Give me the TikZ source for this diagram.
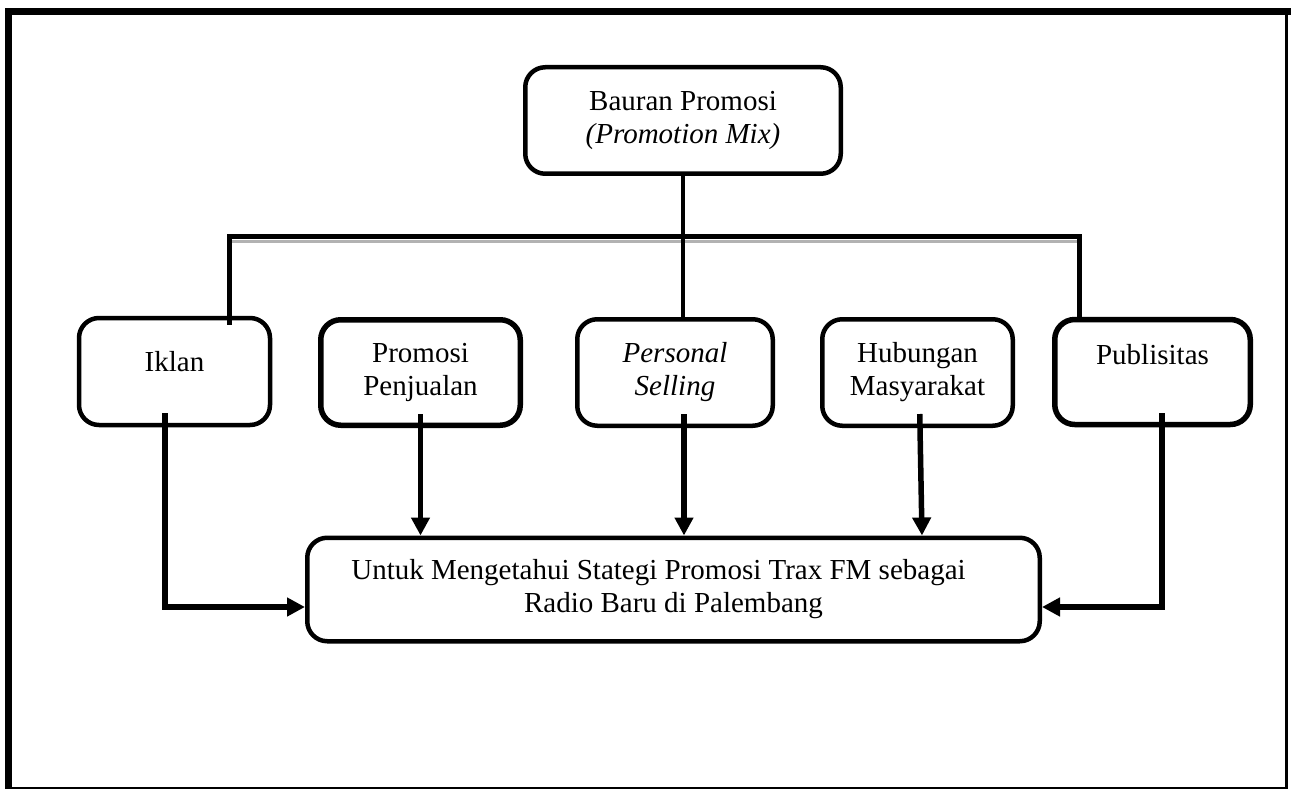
\documentclass[tikz,border=0pt]{standalone}
\usepackage{fontspec}
\setmainfont{Liberation Serif}
\usetikzlibrary{arrows.meta}
\begin{document}
\begin{tikzpicture}[x=1pt,y=-1pt,
  box/.style={draw, rounded corners=20pt, line width=4.5pt, align=center,
    font=\fontsize{29}{33}\selectfont, inner sep=0pt},
  thickbox/.style={box, line width=5.5pt},
  single/.style={text height=20pt, text depth=20pt},
  singlehi/.style={text height=20pt, text depth=36pt},
  conn/.style={line width=4.5pt},
  arr/.style={line width=5.5pt, -{Triangle[length=18pt,width=18pt]}},
  framel/.style={line cap=rect}]
\useasboundingbox (0,0) rectangle (1291,789);
% outer frame
\draw[framel, line width=7pt] (8.5,12) -- (8.5,789);
\draw[framel, line width=7pt] (8,11.5) -- (1287,11.5);
\draw[line width=3pt] (1286.5,10) -- (1286.5,789);
\draw[line width=2pt] (8,787.5) -- (1288,787.5);

% nodes
\node[box, minimum width=315.5pt, minimum height=106.5pt] (top) at (683,120.5)
  {Bauran Promosi\\\textit{(Promotion Mix)}};
\node[box, single, minimum width=191pt, minimum height=107pt] (ik) at (174.5,371.5) {Iklan};
\node[thickbox, minimum width=199.5pt, minimum height=105.5pt] (pp) at (420.5,372.5) {Promosi\\Penjualan};
\node[box, minimum width=195.5pt, minimum height=106.5pt] (ps) at (675,372.5) {\textit{Personal}\\\textit{Selling}};
\node[box, minimum width=190.5pt, minimum height=106.5pt] (hm) at (917.5,372.5) {Hubungan\\Masyarakat};
\node[thickbox, singlehi, minimum width=195.5pt, minimum height=105pt] (pub) at (1152.5,372) {Publisitas};
\node[box, minimum width=732.5pt, minimum height=103.5pt] (bot) at (673.5,589.5)
  {Untuk Mengetahui Stategi Promosi Trax FM sebagai\hspace*{30pt}\\Radio Baru di Palembang};

% bus
\coordinate (busL) at (229.5,236.5);
\coordinate (busR) at (1079.5,236.5);
\draw[gray!60, line width=3pt] (229.5,241) -- (1081,241);
\draw[conn] (top.south) -- (top.south |- ps.north);
\draw[conn, shorten <=-9pt] (busL |- ik.north) -- (busL) -- (busR) -- (busR |- pub.north);

% arrows
\draw[arr, shorten <=-14pt] ([xshift=-9.5pt]ik.south) |- ([yshift=-17.5pt]bot.west);
\draw[arr, shorten <=-14pt] (pp.south) -- (pp.south |- bot.north);
\draw[arr, shorten <=-14pt] ([xshift=9pt]ps.south) -- ([xshift=9pt]ps.south |- bot.north);
\draw[arr, shorten <=-14pt] ([xshift=2.5pt]hm.south) -- ([xshift=4.5pt]hm.south |- bot.north);
\draw[arr, shorten <=-14pt] ([xshift=9.5pt]pub.south) |- ([yshift=-17.5pt]bot.east);
\end{tikzpicture}
\end{document}
